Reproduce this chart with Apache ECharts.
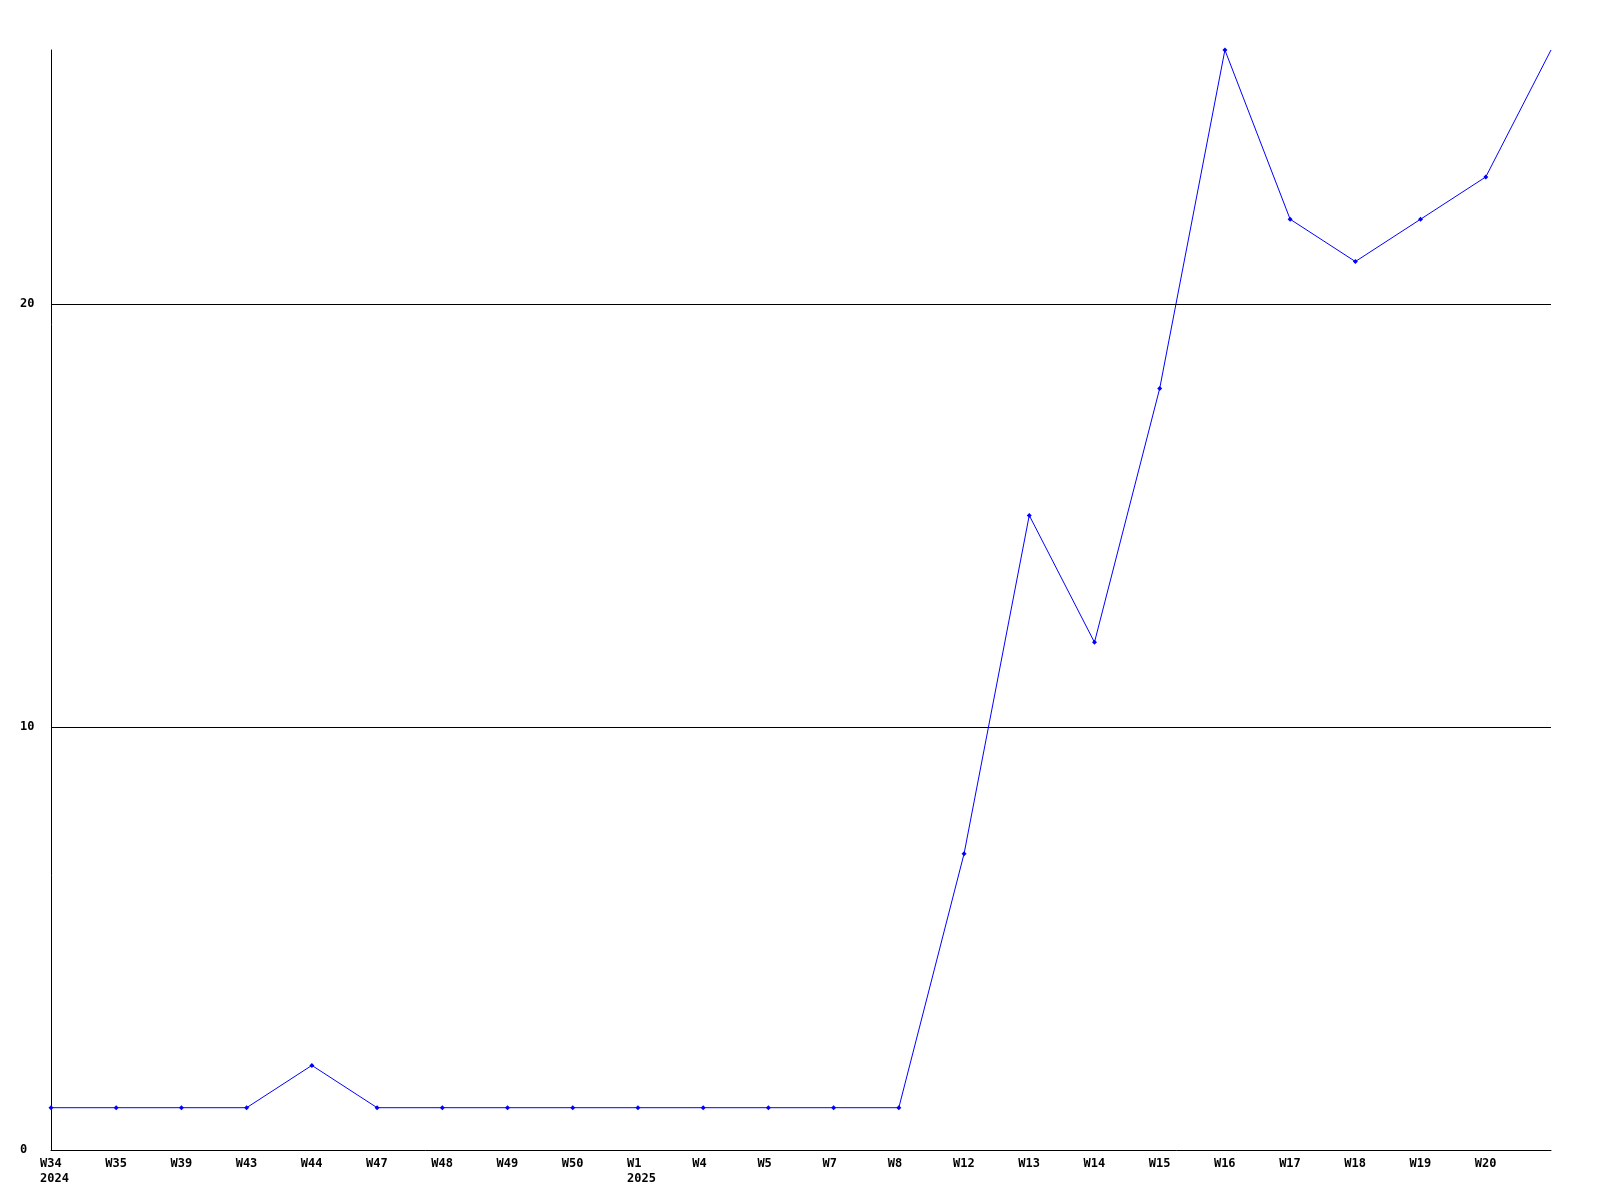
<!DOCTYPE html>
<html>
<head>
<meta charset="utf-8">
<script src="https://cdn.jsdelivr.net/npm/echarts@6/dist/echarts.min.js"></script>
<style>html,body{margin:0;padding:0;background:#fff}#c{width:1600px;height:1200px}</style>
</head>
<body>
<div id="c"></div>
<script>
const weeks = ['W34','W35','W39','W43','W44','W47','W48','W49','W50','W1','W4','W5','W7','W8','W12','W13','W14','W15','W16','W17','W18','W19','W20',''];
const years = ['2024','','','','','','','','','2025','','','','','','','','','','','','','',''];
const values = [1,1,1,1,2,1,1,1,1,1,1,1,1,1,7,15,12,18,26,22,21,22,23,26];
const yTicks = [0,10,20];
const gridLines = [10,20];

const font = 'DejaVu Sans Mono';
const chart = echarts.init(document.getElementById('c'), null, {renderer:'canvas'});
chart.setOption({
  animation:false,
  backgroundColor:'#ffffff',
  grid:{left:51,right:49,top:50,bottom:50,containLabel:false},
  xAxis:{
    type:'category',
    data:weeks,
    boundaryGap:false,
    axisLine:{show:true,lineStyle:{color:'#000',width:1}},
    axisTick:{show:false},
    splitLine:{show:false},
    axisLabel:{
      interval:0,
      margin:6,
      align:'center',
      verticalAlign:'top',
      formatter:(v,i)=>{
        if(!v) return '';
        return years[i] ? '{a|'+v+'}\n{a|'+years[i]+'}' : '{a|'+v+'}';
      },
      rich:{a:{width:22,align:'left',fontFamily:font,fontWeight:'bold',fontSize:12,color:'#000',lineHeight:15}}
    }
  },
  yAxis:{
    type:'value',
    min:0,max:26,interval:10,
    axisLine:{show:true,lineStyle:{color:'#000',width:1}},
    axisTick:{show:false},
    splitLine:{show:false},
    axisLabel:{
      align:'left',
      margin:31,
      fontFamily:font,fontWeight:'bold',fontSize:12,color:'#000',
      formatter:v=>yTicks.includes(v)?String(v):''
    }
  },
  series:[{
    type:'line',
    data:values,
    symbol:(v,p)=>p.dataIndex===values.length-1?'none':'diamond',
    symbolSize:5,
    showAllSymbol:true,
    lineStyle:{color:'#0000ff',width:1},
    itemStyle:{color:'#0000ff'},
    markLine:{
      silent:true,
      symbol:'none',
      label:{show:false},
      lineStyle:{color:'#000',width:1,type:'solid'},
      data:gridLines.map(g=>({yAxis:g}))
    },
    z:3
  }]
});
</script>
</body>
</html>
